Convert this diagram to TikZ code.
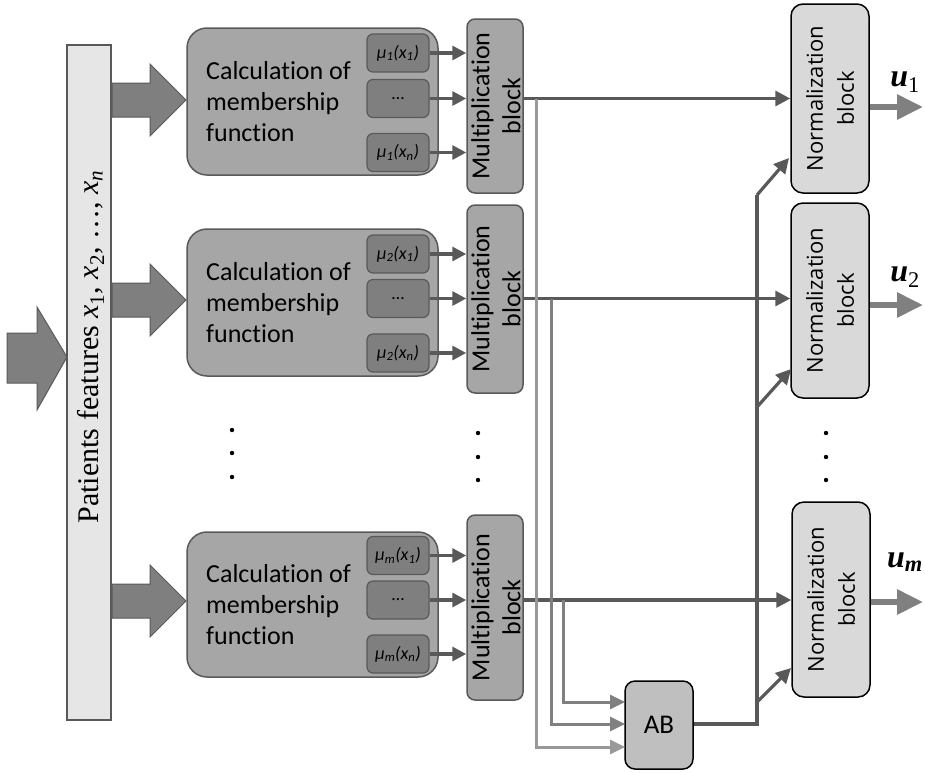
\documentclass[tikz,border=0pt]{standalone}
\usepackage{fontspec}
\setmainfont{Liberation Serif}
\newfontfamily\dserif{Liberation Serif}
\newfontfamily\carl[Ligatures=NoCommon]{Carlito}
\newfontfamily\opens{Open Sans}
\usetikzlibrary{arrows.meta}
\definecolor{dline}{HTML}{595959}
\definecolor{cfill}{HTML}{A6A6A6}
\definecolor{sfill}{HTML}{7F7F7F}
\definecolor{nfill}{HTML}{D9D9D9}
\definecolor{abfill}{HTML}{BFBFBF}
\definecolor{pfill}{HTML}{E6E6E6}
\definecolor{lgray}{HTML}{999999}
\definecolor{mgray}{HTML}{808080}
\begin{document}
\begin{tikzpicture}[x=1pt,y=-1pt,
  calcbox/.style={draw=dline, fill=cfill, line width=1.5pt, rounded corners=20pt, inner sep=0pt, minimum width=251pt},
  sbox/.style={draw=dline, fill=sfill, line width=1.2pt, rounded corners=6pt, minimum width=62pt, minimum height=38pt, inner sep=0pt, font=\carl\itshape\fontsize{18}{20}\selectfont},
  multbox/.style={draw=dline, fill=cfill, line width=1.5pt, rounded corners=8pt, minimum width=56pt, inner sep=0pt},
  normbox/.style={draw=black, fill=nfill, line width=1.5pt, rounded corners=12pt, minimum width=78pt, inner sep=0pt},
  calctext/.style={font=\carl\fontsize{26}{31}\selectfont, align=left, anchor=west, inner sep=0pt},
  multtext/.style={font=\carl\fontsize{26}{31}\selectfont, align=center, rotate=90, inner sep=0pt},
  normtext/.style={font=\opens\fontsize{22}{31}\selectfont, align=center, rotate=90, inner sep=0pt},
  bigarrow/.style={draw=dline, fill=sfill, line width=1pt},
  flow/.style={draw=dline, line width=3.2pt, -{Triangle[length=15pt,width=15pt]}},
  plain/.style={draw=dline, line width=3.2pt},
  inarrow/.style={draw=dline, line width=3.2pt, -{Triangle[length=14pt,width=14pt]}},
  branchL/.style={draw=lgray, line width=3pt, -{Triangle[length=15pt,width=14pt]}},
  branchM/.style={draw=mgray, line width=3pt, -{Triangle[length=15pt,width=14pt]}},
  outarrow/.style={draw=mgray, line width=6pt, -{Triangle[length=26pt,width=24pt]}},
  ulabel/.style={font=\dserif\bfseries\itshape\fontsize{32}{32}\selectfont, inner sep=0pt}
]
\useasboundingbox (0,0) rectangle (925,772);

% input big arrow
\draw[bigarrow] (7,333) -- (37,333) -- (37,307) -- (67,357) -- (37,410) -- (37,383) -- (7,383) -- cycle;
% patients features
\node[draw=dline, fill=pfill, line width=1.5pt, minimum width=44pt, minimum height=675pt, inner sep=0pt] (pf) at (89,382.5) {};
\node[rotate=90, font=\dserif\fontsize{30}{32}\selectfont, inner sep=0pt] (pft) at (91,347) {Patients features {\itshape x}\textsubscript{1}, {\itshape x}\textsubscript{2}, \ldots, {\itshape x\textsubscript{n}}};
% row arrows
\foreach \c in {100,300,601}{
  \draw[bigarrow] (112,\c-17) -- (150,\c-17) -- (150,\c-36) -- (186,\c) -- (150,\c+36) -- (150,\c+17) -- (112,\c+17) -- cycle;
}

% calculation blocks
\node[calcbox, minimum height=147pt] (c1) at (312.5,101.5) {};
\node[calcbox, minimum height=147pt] (c2) at (312.5,302.5) {};
\node[calcbox, minimum height=145pt] (c3) at (312.5,604.5) {};
\node[calctext] (ct1) at (206,101.5) {Calculation of\\membership\\function};
\node[calctext] (ct2) at (206,302.5) {Calculation of\\membership\\function};
\node[calctext] (ct3) at (206,604.5) {Calculation of\\membership\\function};

% small boxes
\node[sbox] (s11) at (398,53) {μ\textsubscript{1}(x\textsubscript{1})};
\node[sbox] (s12) at (398,98.5) {\upshape …};
\node[sbox] (s13) at (398,152.5) {μ\textsubscript{1}(x\textsubscript{n})};
\node[sbox] (s21) at (398,254) {μ\textsubscript{2}(x\textsubscript{1})};
\node[sbox] (s22) at (398,298.5) {\upshape …};
\node[sbox] (s23) at (398,353) {μ\textsubscript{2}(x\textsubscript{n})};
\node[sbox] (s31) at (398,555.5) {μ\textsubscript{m}(x\textsubscript{1})};
\node[sbox] (s32) at (398,600) {\upshape …};
\node[sbox] (s33) at (398,654) {μ\textsubscript{m}(x\textsubscript{n})};

% multiplication blocks
\node[multbox, minimum height=174pt] (m1) at (495,106) {};
\node[multbox, minimum height=188pt] (m2) at (495,299) {};
\node[multbox, minimum height=185pt] (m3) at (495,607.5) {};
\node[multtext] (mt1) at (496,106) {Multiplication\\block};
\node[multtext] (mt2) at (496,299) {Multiplication\\block};
\node[multtext] (mt3) at (496,607.5) {Multiplication\\block};

% normalization blocks
\node[normbox, minimum height=189pt] (n1) at (830,98.5) {};
\node[normbox, minimum height=195pt] (n2) at (830,300.5) {};
\node[normbox, minimum height=195pt] (n3) at (831,599.5) {};
\node[normtext] (nt1) at (830,98.5) {Normalization\\block};
\node[normtext] (nt2) at (830,300.5) {Normalization\\block};
\node[normtext] (nt3) at (831,599.5) {Normalization\\block};

% AB block
\node[draw=black, fill=abfill, line width=1.5pt, rounded corners=10pt, minimum width=68pt, minimum height=88pt, inner sep=0pt, font=\carl\fontsize{27}{30}\selectfont] (ab) at (659,725) {AB};

% arrows from small boxes to multiplication blocks
\foreach \r in {1,2,3}{
  \foreach \k in {1,2,3}{
    \draw[inarrow] (s\r\k.east) -- (s\r\k.east -| m\r.west);
  }
}

% main lines to normalization
\draw[flow] (s12 -| m1.east) -- (s12 -| n1.west);
\draw[flow] (s22 -| m2.east) -- (s22 -| n2.west);
\draw[flow] (s32 -| m3.east) -- (s32 -| n3.west);

% branches to AB
\coordinate (b1) at (536,98.5);
\coordinate (b2) at (551,298.5);
\coordinate (b3) at (563,600);
\coordinate (a1) at (625,702);
\coordinate (a2) at (625,724);
\coordinate (a3) at (625,747);
\draw[branchM] (b3) |- (a1);
\draw[branchM] (b2) |- (a2);
\draw[branchL] (b1) |- (a3);

% AB output
\coordinate (v0) at (757,724);
\coordinate (v1) at (757,195);
\coordinate (v2) at (757,407);
\coordinate (v3) at (757,702);
\coordinate (e1) at (789,158);
\coordinate (e2) at (791,369);
\coordinate (e3) at (791,668);
\draw[plain, line join=miter] (ab.east |- v0) -- (v0) -- (v1);
\draw[flow] (v1) -- (e1);
\draw[flow] (v2) -- (e2);
\draw[flow] (v3) -- (e3);

% outputs
\coordinate (o1) at (923,107);
\coordinate (o2) at (923,305);
\coordinate (o3) at (923,602);
\draw[outarrow] (o1 -| n1.east) -- (o1);
\draw[outarrow] (o2 -| n2.east) -- (o2);
\draw[outarrow] (o3 -| n3.east) -- (o3);
\node[ulabel] (u1) at (905,82) {u\textsubscript{\upshape\mdseries 1}};
\node[ulabel] (u2) at (905,277) {u\textsubscript{\upshape\mdseries 2}};
\node[ulabel] (um) at (905,562) {u\textsubscript{m}};

% dots
\foreach \y in {430,453,477}{ \fill (232,\y) circle (2.2pt); }
\foreach \y in {433,457,480}{ \fill (478,\y) circle (2.2pt); \fill (826,\y) circle (2.2pt); }
\end{tikzpicture}
\end{document}
